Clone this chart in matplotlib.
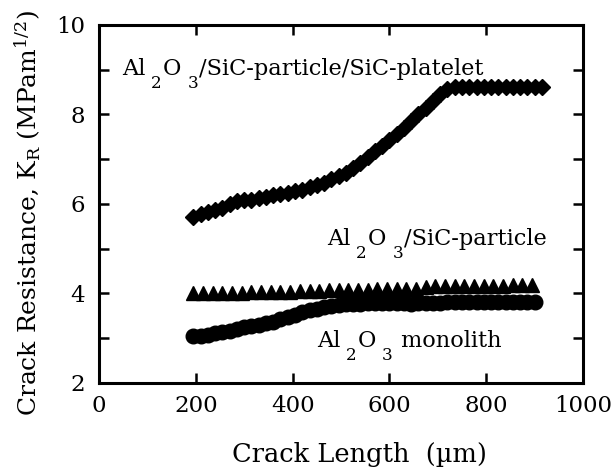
import matplotlib
matplotlib.use("Agg")
import matplotlib.pyplot as plt
from matplotlib.ticker import MultipleLocator
from matplotlib.transforms import IdentityTransform

plt.rcParams['font.family'] = ['DejaVu Serif']
plt.rcParams['mathtext.fontset'] = 'dejavuserif'

# Al2O3/SiC-particle/SiC-platelet (diamonds)
plate_x = [195, 210, 225, 240, 255, 270, 285, 300, 315, 330, 345, 360, 375, 390, 405,
           420, 435, 450, 465, 480, 495, 510, 525, 540, 555, 570, 585, 600, 615, 630,
           645, 660, 675, 690, 705, 720, 735, 750, 765, 780, 795, 810, 825, 840, 855,
           870, 885, 900, 915]
plate_y = [5.72, 5.78, 5.82, 5.86, 5.92, 6.00, 6.06, 6.08, 6.10, 6.13, 6.16, 6.19, 6.22, 6.25, 6.28,
           6.32, 6.37, 6.42, 6.48, 6.55, 6.62, 6.70, 6.80, 6.92, 7.05, 7.18, 7.30, 7.42, 7.56, 7.70,
           7.85, 8.00, 8.15, 8.30, 8.45, 8.58, 8.62, 8.62, 8.61, 8.62, 8.62, 8.61, 8.62, 8.62, 8.62,
           8.61, 8.62, 8.62, 8.62]

# Al2O3/SiC-particle (triangles)
part_x = [195, 215, 235, 255, 275, 295, 315, 335, 355, 375, 395, 415, 435, 455, 475, 495,
          515, 535, 555, 575, 595, 615, 635, 655, 675, 695, 715, 735, 755, 775, 795, 815,
          835, 855, 875, 895]
part_y = [4.02, 4.02, 4.02, 4.02, 4.02, 4.02, 4.03, 4.03, 4.03, 4.03, 4.03, 4.05, 4.06, 4.06, 4.07, 4.07,
          4.08, 4.08, 4.08, 4.09, 4.09, 4.10, 4.10, 4.11, 4.15, 4.16, 4.16, 4.16, 4.17, 4.17, 4.17, 4.17,
          4.17, 4.18, 4.18, 4.18]

# Al2O3 monolith (circles)
mono_x = [195, 210, 225, 240, 255, 270, 285, 300, 315, 330, 345, 360, 375, 390, 405, 420,
          435, 450, 465, 480, 495, 510, 525, 540, 555, 570, 585, 600, 615, 630, 645, 660,
          675, 690, 705, 720, 735, 750, 765, 780, 795, 810, 825, 840, 855, 870, 885, 900]
mono_y = [3.05, 3.06, 3.08, 3.12, 3.15, 3.17, 3.20, 3.24, 3.27, 3.30, 3.33, 3.37, 3.42, 3.48, 3.53, 3.58,
          3.62, 3.66, 3.69, 3.72, 3.74, 3.76, 3.77, 3.77, 3.78, 3.78, 3.78, 3.79, 3.78, 3.78, 3.77, 3.78,
          3.79, 3.79, 3.79, 3.80, 3.80, 3.80, 3.80, 3.80, 3.80, 3.80, 3.81, 3.81, 3.81, 3.81, 3.81, 3.81]

fig = plt.figure(figsize=(6.16, 4.69), dpi=100)
ax = fig.add_axes([0.1607, 0.1834, 0.7857, 0.7633])

ax.plot(plate_x, plate_y, linestyle='none', marker='D', ms=8.5, color='black')
ax.plot(part_x, part_y, linestyle='none', marker='^', ms=10, color='black')
ax.plot(mono_x, mono_y, linestyle='none', marker='o', ms=10.5, color='black')

ax.set_xlim(0, 1000)
ax.set_ylim(2, 10)
ax.xaxis.set_major_locator(MultipleLocator(200))
ax.yaxis.set_major_locator(MultipleLocator(2))
ax.yaxis.set_minor_locator(MultipleLocator(1))
ax.tick_params(which='both', direction='in', top=True, right=True, length=7, width=1.8,
               labelsize=16.5)
ax.tick_params(axis='y', pad=10)
ax.tick_params(axis='x', pad=9)
for s in ax.spines.values():
    s.set_linewidth(2.2)

ax.set_xlabel('Crack Length  (\u00b5m)', fontsize=18.5, ha='center', va='baseline')
ax.xaxis.set_label_coords(0.539, -0.22)
ax.set_ylabel(r'Crack Resistance, K$_\mathrm{R}$ (MPam$^{1/2}$)', fontsize=18,
              ha='center', va='center')
ax.yaxis.set_label_coords(-0.147, 0.475)

renderer = fig.canvas.get_renderer()


def rich(x, y, pieces, size):
    X, Y = ax.transData.transform((x, y))
    for s, sub in pieces:
        if sub:
            X += 6
            t = fig.text(X, Y - 13, s, fontsize=size * 0.75, transform=IdentityTransform(),
                         ha='left', va='baseline')
            X = t.get_window_extent(renderer).x1 + 1
        else:
            t = fig.text(X, Y, s, fontsize=size, transform=IdentityTransform(),
                         ha='left', va='baseline')
            X = t.get_window_extent(renderer).x1


rich(47.5, 8.88, [('Al', False), ('2', True), ('O', False), ('3', True),
                  ('/SiC-particle/SiC-platelet', False)], 16.2)
rich(471, 5.08, [('Al', False), ('2', True), ('O', False), ('3', True),
                 ('/SiC-particle', False)], 16.2)
rich(450, 2.80, [('Al', False), ('2', True), ('O', False), ('3', True),
                 (' monolith', False)], 16.2)

fig.savefig('out.png', dpi=100)
